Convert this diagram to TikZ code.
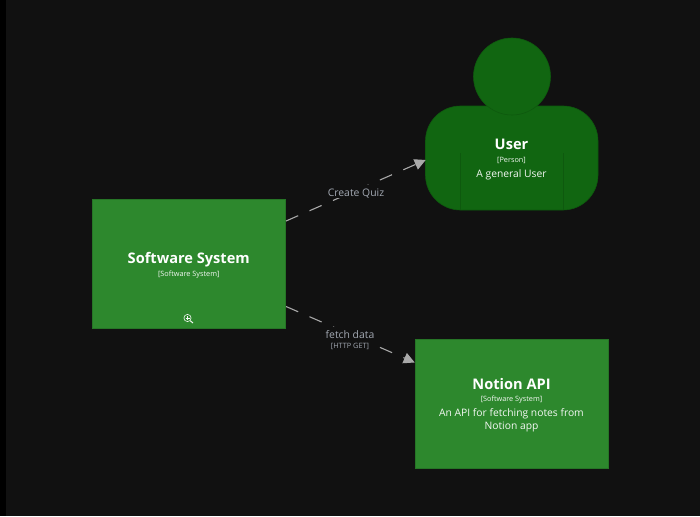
\documentclass[tikz,border=0pt]{standalone}
\usepackage{fontspec}
\setmainfont{Open Sans}
\usetikzlibrary{arrows.meta}
\definecolor{bgc}{HTML}{111111}
\definecolor{boxc}{HTML}{2D882D}
\definecolor{boxb}{HTML}{267526}
\definecolor{perc}{HTML}{116611}
\definecolor{perb}{HTML}{0E590E}
\definecolor{edgec}{HTML}{A9A9A9}
\definecolor{lblc}{HTML}{A3A9B3}
\definecolor{subc}{HTML}{F4F8F4}
\tikzset{
  x=1pt,y=-1pt,
  sysbox/.style={draw=boxb,fill=boxc,line width=0.6pt,minimum width=193.5pt,minimum height=129pt,inner sep=0pt},
  perbody/.style={draw=perb,fill=perc,line width=0.6pt,rounded corners=35pt,minimum width=172.5pt,minimum height=104pt,inner sep=0pt},
  perhead/.style={circle,draw=perb,fill=perc,line width=0.6pt,minimum size=77pt,inner sep=0pt},
  ttl/.style={text=white,font=\bfseries\fontsize{14.6}{17}\selectfont,anchor=base,inner sep=0pt},
  tagt/.style={text=subc,font=\fontsize{7.3}{9}\selectfont,anchor=base,inner sep=0pt},
  dsc/.style={text=subc,font=\fontsize{10.3}{13}\selectfont,anchor=base,inner sep=0pt},
  elbl/.style={text=lblc,font=\fontsize{10.4}{13}\selectfont,anchor=base,inner sep=0pt},
  etag/.style={text=lblc,font=\fontsize{7.3}{9}\selectfont,anchor=base,inner sep=0pt},
  rel/.style={draw=edgec,line width=1.1pt,dash pattern=on 13.2pt off 12.4pt,-{Triangle[length=11pt,width=11pt]}},
  patch/.style={fill=bgc,draw=none,inner sep=0pt}
}
\begin{document}
\begin{tikzpicture}
\useasboundingbox (0,0) rectangle (700,516);
\fill[bgc] (0,0) rectangle (700,516);
\fill[black] (0,0) rectangle (6,516);
% nodes
\node[perbody] (body) at (511.75,158) {};
\node[perhead] (head) at (512,76.5) {};
\draw[perb,line width=0.5pt] (460,153) -- (460,209.5);
\draw[perb,line width=0.5pt] (563.5,153) -- (563.5,209.5);
\node[sysbox] (sys) at (189,263.5) {};
\node[sysbox] (api) at (511.75,403.5) {};
% connectors
\draw[rel] ([yshift=42.5pt]sys.east) -- ([xshift=0.5pt,yshift=-2pt]body.west);
\draw[rel] ([yshift=-43pt]sys.east) -- ([yshift=41pt]api.west);
% connector labels
\node[patch,minimum width=56pt,minimum height=13pt] (p1) at (356,191.5) {};
\node[patch,minimum width=50pt,minimum height=24pt] (p2) at (350,339) {};
\node[elbl] (l1) at (356,196.3) {Create Quiz};
\node[elbl] (l2) at (350,338.9) {fetch data};
\node[etag] (l2t) at (350,348.8) {[HTTP GET]};
% node texts
\node[ttl] (t1) at (511.5,149.6) {User};
\node[tagt] (t1t) at (511.5,162.2) {[Person]};
\node[dsc] (t1d) at (511.5,177.2) {A general User};
\node[ttl] (t2) at (188.75,263.9) {Software System};
\node[tagt] (t2t) at (188.75,276.2) {[Software System]};
\node[ttl] (t3) at (511.5,389.6) {Notion API};
\node[tagt] (t3t) at (511.5,401.2) {[Software System]};
\node[dsc] (t3d) at (511.5,416.5) {An API for fetching notes from};
\node[dsc] (t3e) at (511.5,429.5) {Notion app};
% zoom icon
\draw[subc,line width=0.6pt] (187.5,318) circle (3.6pt);
\draw[subc,line width=0.5pt] (185.5,318) -- (189.5,318) (187.5,316) -- (187.5,320);
\draw[subc,line width=1pt] (190.2,320.7) -- (193,323);
\end{tikzpicture}
\end{document}
